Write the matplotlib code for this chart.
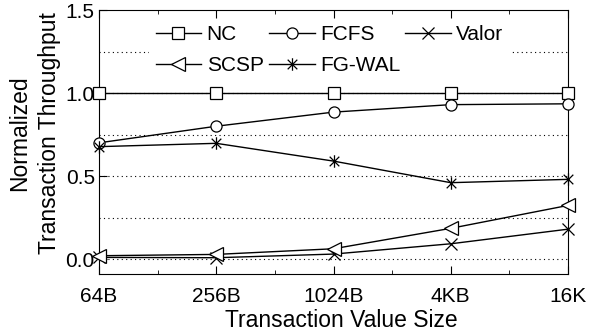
import numpy as np
import matplotlib.pyplot as plt
from matplotlib.ticker import MultipleLocator
from matplotlib.path import Path

plt.rcParams['font.family'] = ['Liberation Sans', 'DejaVu Sans']

# dane
sizes = ['64B', '256B', '1024B', '4KB', '16K']
nc    = [1.0, 1.0, 1.0, 1.0, 1.0]
fcfs  = [0.70, 0.80, 0.885, 0.93, 0.935]
valor = [0.01, 0.008, 0.03, 0.092, 0.18]
scsp  = [0.02, 0.028, 0.062, 0.185, 0.323]
fgwal = [0.677, 0.697, 0.59, 0.46, 0.48]

x = np.arange(len(sizes))

# gwiazdka: krzyzyk + pionowa kreska
star = Path([(-1, -1), (1, 1), (-1, 1), (1, -1), (0, -1.3), (0, 1.3)],
            [Path.MOVETO, Path.LINETO, Path.MOVETO, Path.LINETO, Path.MOVETO, Path.LINETO])

fig = plt.figure(figsize=(5.97, 3.33), dpi=100)
ax = fig.add_axes([99/597, 1 - 274/333, 469/597, 264/333])

style = dict(color='black', lw=1, markerfacecolor='white',
             markeredgecolor='black', markeredgewidth=0.9, clip_on=False, zorder=3)
l_nc, = ax.plot(x, nc, marker='s', markersize=8, label='NC', **style)
l_fcfs, = ax.plot(x, fcfs, marker='o', markersize=8, label='FCFS', **style)
l_valor, = ax.plot(x, valor, marker='x', markersize=9, label='Valor', **style)
l_scsp, = ax.plot(x, scsp, marker='<', markersize=10, label='SCSP', **style)
l_fgwal, = ax.plot(x, fgwal, marker=star, markersize=9, label='FG-WAL', **style)

# linie siatki
for g in [0.0, 0.25, 0.5, 0.75, 1.0, 1.25]:
    ax.axhline(g, color='black', lw=0.8, ls=(0, (1, 3)), zorder=1)

ax.set_xlim(0, 4)
ax.set_ylim(-0.09, 1.5)
ax.set_xticks(x)
ax.set_xticklabels(sizes)
ax.xaxis.set_minor_locator(MultipleLocator(0.5))
ax.set_yticks([0.0, 0.5, 1.0, 1.5])
ax.set_yticklabels(['0.0', '0.5', '1.0', '1.5'])
ax.tick_params(axis='x', which='both', direction='in', top=True, labelsize=15, pad=9)
ax.tick_params(axis='y', which='both', direction='in', labelsize=15, pad=3)
ax.tick_params(axis='both', which='major', length=6)
ax.tick_params(axis='both', which='minor', length=3)

ax.set_xlabel('Transaction Value Size', fontsize=16.5)
ax.xaxis.set_label_coords(0.517, -0.133)
ax.set_ylabel('Normalized\nTransaction Throughput', fontsize=16.5, linespacing=1.4)
ax.yaxis.set_label_coords(-0.08, 0.535)

# kolejnosc jak w oryginale (wypelnianie kolumnami)
handles = [l_nc, l_scsp, l_fcfs, l_fgwal, l_valor]
leg = ax.legend(handles=handles, labels=[h.get_label() for h in handles],
                loc='upper left', bbox_to_anchor=(0.085, 1.007), ncol=3,
                frameon=True, fontsize=15, handlelength=2.2, columnspacing=0.25,
                handletextpad=0.25, labelspacing=0.6, borderpad=0.3)
leg.get_frame().set_edgecolor('none')
leg.get_frame().set_facecolor('white')
leg.get_frame().set_alpha(1)
leg.set_zorder(5)

fig.savefig('out.png', dpi=100)
